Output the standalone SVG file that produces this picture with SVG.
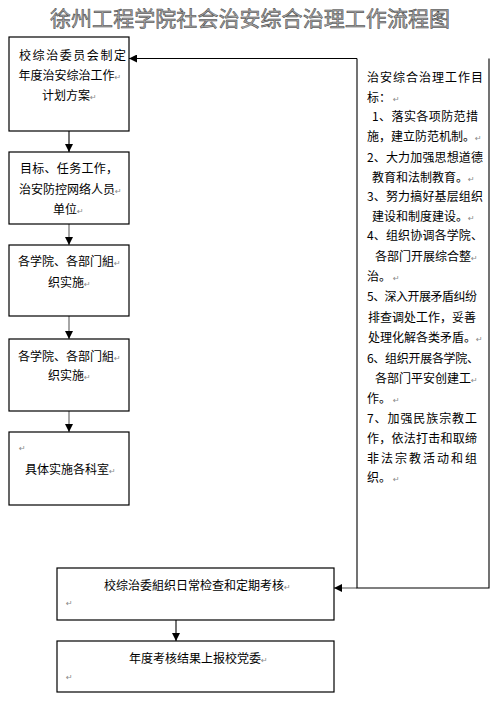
<svg xmlns="http://www.w3.org/2000/svg" width="499" height="703" viewBox="0 0 499 703">
<style>
.t{font-family:"Noto Sans CJK SC","Liberation Sans",sans-serif;font-size:12px;fill:#000}
.p{font-family:"DejaVu Sans",sans-serif;font-size:8px;fill:#888}
.box{fill:#fff;stroke:#000;stroke-width:1.2}
.ln{fill:none;stroke:#000;stroke-width:1.1}
.lg{fill:none;stroke:#808080;stroke-width:1.4}
.title{font-family:"Noto Sans CJK SC",sans-serif;font-size:21px;fill:#a8a8a8;stroke:#3a3a3a;stroke-width:0.5}
</style>
<defs>
<marker id="ah" markerUnits="userSpaceOnUse" markerWidth="8" markerHeight="8" refX="8" refY="4" orient="auto">
<path d="M0,0 L8,4 L0,8 z" fill="#000"/>
</marker>
</defs>
<rect width="499" height="703" fill="#fff"/>
<text class="title" x="250" y="26" text-anchor="middle" textLength="400" lengthAdjust="spacing">徐州工程学院社会治安综合治理工作流程图</text>

<g id="connectors">
<line class="ln" x1="69" y1="131" x2="69" y2="152" marker-end="url(#ah)"/>
<line class="lg" x1="69" y1="224" x2="69" y2="245" marker-end="url(#ah)"/>
<line class="lg" x1="69" y1="316" x2="69" y2="339" marker-end="url(#ah)"/>
<line class="lg" x1="69" y1="411" x2="69" y2="432" marker-end="url(#ah)"/>
<line class="ln" x1="176" y1="620" x2="176" y2="641" marker-end="url(#ah)"/>
<line class="ln" x1="357" y1="58.5" x2="129" y2="58.5" marker-end="url(#ah)"/>
<line class="lg" x1="357" y1="588" x2="334" y2="588" marker-end="url(#ah)"/>
</g>

<g id="n1">
<rect class="box" x="9" y="37" width="120" height="94"/>
<text class="t" x="19" y="59.5" textLength="107" lengthAdjust="spacing">校综治委员会制定</text>
<text class="t" x="18.5" y="79.5">年度治安综治工作<tspan class="p">↵</tspan></text>
<text class="t" x="42" y="99.5">计划方案<tspan class="p">↵</tspan></text>
</g>

<g id="n2">
<rect class="box" x="9" y="152" width="120" height="72"/>
<text class="t" x="20" y="173" textLength="98" lengthAdjust="spacing">目标、任务工作，</text>
<text class="t" x="19" y="194">治安防控网络人员<tspan class="p">↵</tspan></text>
<text class="t" x="53" y="213.5">单位<tspan class="p">↵</tspan></text>
</g>

<g id="n3">
<rect class="box" x="9" y="245" width="120" height="71"/>
<text class="t" x="18" y="266">各学院、各部门組<tspan class="p">↵</tspan></text>
<text class="t" x="48" y="287">织实施<tspan class="p">↵</tspan></text>
</g>

<g id="n4">
<rect class="box" x="9" y="339" width="120" height="72"/>
<text class="t" x="18" y="360.5">各学院、各部门組<tspan class="p">↵</tspan></text>
<text class="t" x="48" y="379.5">织实施<tspan class="p">↵</tspan></text>
</g>

<g id="n5">
<rect class="box" x="9" y="432" width="120" height="73"/>
<text class="p" x="19" y="451">↵</text>
<text class="t" x="25" y="473.5">具体实施各科室<tspan class="p">↵</tspan></text>
</g>

<g id="goals">
<path class="ln" d="M357,58.5 V588 H489 V58.5" stroke-width="1.2"/>
<text class="t" x="367" y="82" textLength="116" lengthAdjust="spacing">治安综合治理工作目</text>
<text class="t" x="367" y="101.5">标：<tspan class="p" dx="2">↵</tspan></text>
<text class="t" x="372" y="120.5" textLength="106" lengthAdjust="spacing">1、落实各项防范措</text>
<text class="t" x="367" y="140.5">施，建立防范机制。<tspan class="p">↵</tspan></text>
<text class="t" x="367" y="162" textLength="116" lengthAdjust="spacing">2、大力加强思想道德</text>
<text class="t" x="372" y="181.5">教育和法制教育。<tspan class="p">↵</tspan></text>
<text class="t" x="367" y="201" textLength="116" lengthAdjust="spacing">3、努力搞好基层组织</text>
<text class="t" x="372" y="220.5">建设和制度建设。<tspan class="p">↵</tspan></text>
<text class="t" x="367" y="239.5" textLength="116" lengthAdjust="spacing">4、组织协调各学院、</text>
<text class="t" x="375" y="260.5">各部门开展综合整<tspan class="p">↵</tspan></text>
<text class="t" x="367" y="281">治。<tspan class="p" dx="2">↵</tspan></text>
<text class="t" x="367" y="301" textLength="110" lengthAdjust="spacing">5、深入开展矛盾纠纷</text>
<text class="t" x="368" y="321.5">排查调处工作，妥善</text>
<text class="t" x="368" y="341.5">处理化解各类矛盾。<tspan class="p">↵</tspan></text>
<text class="t" x="367" y="362.5" textLength="112" lengthAdjust="spacing">6、组织开展各学院、</text>
<text class="t" x="375" y="382.5">各部门平安创建工<tspan class="p">↵</tspan></text>
<text class="t" x="367" y="402.5">作。<tspan class="p" dx="2">↵</tspan></text>
<text class="t" x="367" y="422.5" textLength="110" lengthAdjust="spacing">7、加强民族宗教工</text>
<text class="t" x="367" y="442.5" textLength="110" lengthAdjust="spacing">作，依法打击和取缔</text>
<text class="t" x="367" y="462.5" textLength="110" lengthAdjust="spacing">非法宗教活动和组</text>
<text class="t" x="367" y="481.5">织。<tspan class="p" dx="2">↵</tspan></text>
</g>

<g id="n6">
<rect class="box" x="57" y="568" width="277" height="52"/>
<text class="t" x="104" y="589.5">校综治委組织日常检查和定期考核<tspan class="p">↵</tspan></text>
<text class="p" x="66" y="606">↵</text>
</g>

<g id="n7">
<rect class="box" x="57" y="641" width="277" height="51"/>
<text class="t" x="129" y="663">年度考核结果上报校党委<tspan class="p">↵</tspan></text>
<text class="p" x="66" y="679.5">↵</text>
</g>
</svg>
